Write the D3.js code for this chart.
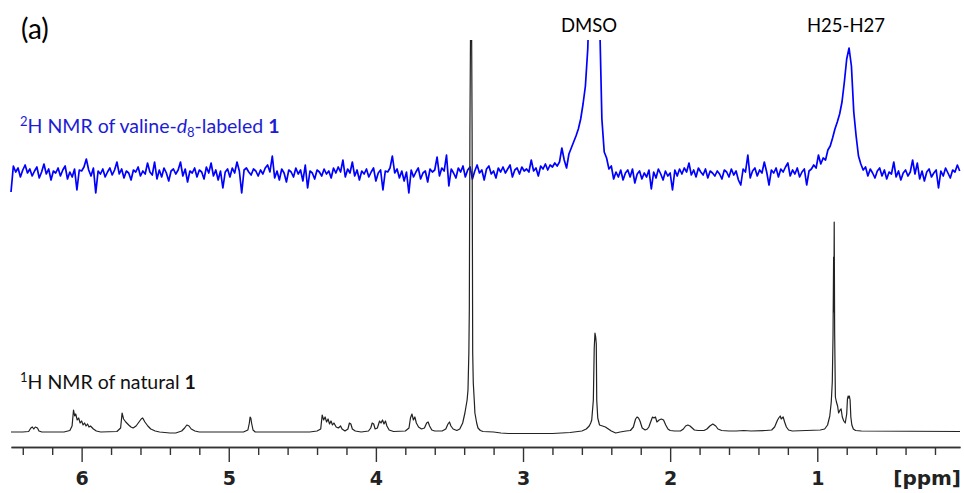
<!DOCTYPE html>
<html>
<head>
<meta charset="utf-8">
<script src="https://cdn.jsdelivr.net/npm/d3@7"></script>
<style>
  body { margin: 0; background: #fff; }
  .lbl { font-family: Lato, "Open Sans", sans-serif; }
  .axis text { font-family: "DejaVu Sans", sans-serif; font-weight: bold; font-size: 19px; fill: #222; }
  .axis path, .axis line { stroke: #333; stroke-width: 1.4px; }
</style>
</head>
<body>
<script>
var width = 964,
    height = 493;

// ppm limits of the plotted window
var ppmLeft = 6.48,
    ppmRight = 0.03;

var majorTicks = [6, 5, 4, 3, 2, 1];
var minorTicks = [6.4, 6.2, 5.8, 5.6, 5.4, 5.2, 4.8, 4.6, 4.4, 4.2, 3.8, 3.6, 3.4, 3.2,
                  2.8, 2.6, 2.4, 2.2, 1.8, 1.6, 1.4, 1.2, 0.8, 0.6, 0.4, 0.2];

// 2H spectrum, evenly sampled from h2Start downwards in steps of h2Step
var h2Start = 6.48,
    h2Step = 0.016;
var h2Values = [
  -18, 8, 2, 6, -3, 4, 9, 1, 5, -2,
  3, 7, -4, 2, 10, 0, 5, -6, 3, 1,
  6, -2, 4, 8, -5, 2, -3, 5, -16, 4,
  3, 7, 15, 4, -2, 6, -19, 3, 0, 5,
  -3, 2, 6, -1, 4, 12, 0, 5, -4, 3,
  1, -6, 4, 2, 7, -2, 3, 0, 11, 2,
  -1, 12, -5, 4, -3, 6, 1, -7, 3, 5,
  0, 4, 12, -2, 5, -8, 3, 1, 6, -3,
  4, 2, -5, 7, 1, 11, -2, 4, -6, 3,
  -14, 2, 5, -3, 6, 1, 12, 3, -19, 4,
  6, 2, -1, 5, 3, -2, 4, 0, 6, 9,
  2, 18, -4, 3, -6, 5, 1, -8, 4, 2,
  -3, 6, 0, 4, -7, 9, -14, 3, 1, -5,
  4, 2, -2, 5, 0, 3, -4, 6, 1, 7,
  2, 14, -3, 5, 1, 12, -2, 4, -6, 3,
  0, 5, -3, 2, 6, -7, 1, 4, -16, 3,
  2, 6, 18, 1, 5, -4, 3, -7, 2, -19,
  4, -3, 2, 6, -5, 1, 3, -8, 5, 2,
  4, 17, -2, 6, 3, 19, -12, 5, 1, -4,
  6, 2, 8, -3, 4, 7, -5, 3, 9, 1,
  4, -6, 5, 8, 0, 3, -4, 6, 2, 7,
  1, 5, 9, -3, 4, 6, 0, 7, 3, 5,
  2, 14, 3, 6, -2, 8, 5, 10, 4, 9,
  7, 11, 8, 12, 26, 14, 6, 20, 26, 32,
  38, 45, 55, 70, 88, 125, 200, 240, 240, 200,
  160, 55, 22, 16, 5, 8, -5, 2, -3, 4,
  -6, 1, 4, -3, 5, -9, 0, 3, -5, 1,
  -3, 4, -15, 2, -4, 5, 0, -6, 3, -2,
  1, -16, 4, -2, 5, 0, 6, 2, 11, -1,
  4, -3, 6, 2, -1, 5, -4, 3, 1, -2,
  3, 0, -5, 4, 2, -3, 5, -1, 3, -6,
  -11, 5, 2, 19, -4, 3, 6, -2, 4, 1,
  12, 2, -11, 4, 1, 6, -3, 5, 2, 7,
  11, -2, 4, 0, 6, -3, 2, 5, -11, 3,
  5, 9, 6, 19, 10, 16, 14, 24, 28, 36,
  45, 52, 60, 72, 92, 115, 126, 108, 62, 38,
  18, 10, 4, 7, -2, 5, 1, -4, 3, 6,
  -2, 4, -5, 2, 0, 12, -3, 3, -6, 1,
  4, -2, 2, 14, 0, 11, -5, 3, -7, 2,
  5, -3, 1, 4, -14, 3, -2, 6, 1, -4,
  4, 2, 9, 3
];

// 1H spectrum traced as [ppm, intensity]
var h1Points = [
  [6.48, 0], [6.40, 0], [6.36, 0.5], [6.345, 4], [6.335, 5], [6.325, 3], [6.315, 5], [6.30, 4], [6.29, 1], [6.27, 0],
  [6.12, 0], [6.08, 1.5], [6.065, 6], [6.055, 22], [6.047, 16], [6.04, 18], [6.03, 12], [6.02, 14], [6.01, 9], [6.00, 11],
  [5.99, 7], [5.98, 9], [5.97, 6], [5.96, 8], [5.95, 5], [5.94, 6], [5.92, 3], [5.90, 1], [5.87, 0],
  [5.76, 0.5], [5.735, 4], [5.725, 19], [5.715, 13], [5.70, 10], [5.68, 7], [5.665, 5], [5.65, 4], [5.63, 6], [5.61, 10],
  [5.595, 13], [5.585, 14], [5.57, 10], [5.55, 6], [5.53, 3], [5.50, 1], [5.47, 0],
  [5.40, -1], [5.36, -1], [5.34, 0], [5.32, 1], [5.30, 4], [5.285, 7], [5.27, 6], [5.255, 3], [5.23, 1], [5.20, 0],
  [4.90, 0], [4.87, 2], [4.86, 9], [4.855, 15], [4.85, 14], [4.845, 9], [4.835, 2], [4.82, 0],
  [4.45, 0], [4.40, 1], [4.375, 3], [4.365, 17], [4.355, 12], [4.345, 15], [4.335, 10], [4.325, 13], [4.315, 8],
  [4.305, 11], [4.295, 7], [4.285, 9], [4.27, 5], [4.255, 4], [4.24, 6], [4.23, 3], [4.21, 1], [4.19, 3], [4.18, 9],
  [4.17, 8], [4.16, 3], [4.14, 1], [4.10, 0],
  [4.05, 1], [4.035, 4], [4.025, 9], [4.015, 8], [4.005, 3], [3.99, 4], [3.975, 11], [3.965, 9], [3.955, 12],
  [3.945, 8], [3.935, 11], [3.925, 6], [3.91, 2], [3.88, 0.5],
  [3.80, 1], [3.775, 4], [3.765, 14], [3.755, 18], [3.745, 12], [3.735, 15], [3.725, 9], [3.71, 5], [3.69, 3],
  [3.67, 4], [3.655, 9], [3.645, 10], [3.635, 6], [3.62, 2], [3.60, 1],
  [3.55, 1], [3.525, 3], [3.51, 8], [3.50, 10], [3.49, 6], [3.475, 3], [3.45, 1.5], [3.43, 3], [3.41, 9],
  [3.395, 19], [3.38, 32], [3.374, 42], [3.368, 80], [3.365, 122], [3.361, 300], [3.356, 420], [3.350, 420],
  [3.346, 300], [3.342, 79], [3.338, 49], [3.33, 28], [3.327, 19], [3.315, 9], [3.306, 4], [3.29, 1.5], [3.272, 0.5],
  [3.20, 0], [3.15, -1], [3.10, -1.5], [2.80, -1.5], [2.68, -0.5], [2.60, 1], [2.57, 3], [2.55, 6], [2.54, 9],
  [2.533, 12], [2.522, 32], [2.516, 84], [2.511, 99], [2.506, 95], [2.502, 88], [2.499, 32], [2.492, 14], [2.48, 7],
  [2.46, 6], [2.44, 5], [2.42, 3], [2.40, 1], [2.37, -1], [2.34, 0], [2.30, 1],
  [2.27, 1.5], [2.25, 5], [2.235, 13], [2.225, 15], [2.215, 14], [2.205, 11], [2.19, 4], [2.17, 2], [2.155, 3],
  [2.145, 5], [2.135, 9], [2.12, 15], [2.11, 14], [2.10, 15], [2.09, 10], [2.075, 12], [2.06, 13], [2.045, 12],
  [2.03, 7], [2.015, 3], [2.0, 1.5], [1.97, 1],
  [1.93, 1], [1.91, 3], [1.895, 6], [1.88, 7], [1.865, 6], [1.85, 4], [1.835, 2], [1.81, 1.5],
  [1.77, 1.5], [1.75, 3], [1.73, 6], [1.71, 8], [1.69, 6], [1.675, 3], [1.65, 1.5], [1.60, 1],
  [1.55, 1], [1.50, 1.5], [1.45, 1], [1.35, 1.5],
  [1.31, 2], [1.29, 5], [1.27, 12], [1.262, 14], [1.252, 16], [1.245, 13], [1.232, 15], [1.222, 10], [1.21, 5],
  [1.195, 2], [1.17, 1],
  [0.98, 2], [0.95, 3], [0.93, 7], [0.915, 16], [0.905, 30], [0.898, 50], [0.893, 96], [0.889, 175], [0.887, 120],
  [0.885, 210], [0.882, 100], [0.877, 35], [0.870, 30], [0.862, 26], [0.855, 19], [0.845, 22], [0.838, 23],
  [0.83, 15], [0.82, 11], [0.81, 9], [0.80, 18], [0.795, 33], [0.79, 36], [0.786, 34], [0.782, 36], [0.777, 32],
  [0.772, 15], [0.765, 7], [0.755, 3], [0.74, 1.5], [0.70, 1], [0.03, 0.5]
];

var svg = d3.select("body").append("svg")
    .attr("width", width)
    .attr("height", height)
    .style("display", "block");

var x = d3.scaleLinear().domain([ppmLeft, ppmRight]).range([11, 960]);
var yBlue = d3.scaleLinear().domain([0, 100]).range([174, 74]);
var yBlack = d3.scaleLinear().domain([0, 210]).range([432, 222]);

svg.append("clipPath").attr("id", "plot")
  .append("rect")
    .attr("x", 0).attr("y", 40)
    .attr("width", width).attr("height", height - 40);

var blueLine = d3.line()
    .x(function(d, i) { return x(h2Start - i * h2Step); })
    .y(function(d) { return yBlue(d); });

var blackLine = d3.line()
    .x(function(d) { return x(d[0]); })
    .y(function(d) { return yBlack(d[1]); });

var traces = svg.append("g").attr("clip-path", "url(#plot)");

traces.append("path")
    .datum(h2Values)
    .attr("d", blueLine)
    .attr("fill", "none")
    .attr("stroke", "#0000ff")
    .attr("stroke-width", 1.7)
    .attr("stroke-linejoin", "round");

traces.append("path")
    .datum(h1Points)
    .attr("d", blackLine)
    .attr("fill", "none")
    .attr("stroke", "#222")
    .attr("stroke-width", 1.2)
    .attr("stroke-linejoin", "round");

// -- axis
svg.append("g")
    .attr("class", "axis")
    .attr("transform", "translate(0,447)")
    .call(d3.axisBottom(x).tickValues(minorTicks).tickSize(8).tickSizeOuter(0).tickFormat(""));

svg.append("g")
    .attr("class", "axis")
    .attr("transform", "translate(0,447)")
    .call(d3.axisBottom(x).tickValues(majorTicks).tickSize(15).tickSizeOuter(0).tickPadding(10).tickFormat(d3.format("d")));

svg.append("text")
    .attr("x", 961).attr("y", 485)
    .attr("text-anchor", "end")
    .style("font-family", "'DejaVu Sans', sans-serif")
    .style("font-weight", "bold")
    .style("font-size", "20px")
    .style("fill", "#222")
    .text("[ppm]");

// -- labels
svg.append("text")
    .attr("class", "lbl")
    .attr("x", 21).attr("y", 39)
    .style("font-size", "28px")
    .text("(a)");

svg.append("text")
    .attr("class", "lbl")
    .attr("x", 589).attr("y", 32)
    .attr("text-anchor", "middle")
    .style("font-size", "18.5px")
    .text("DMSO");

svg.append("text")
    .attr("class", "lbl")
    .attr("x", 846).attr("y", 32)
    .attr("text-anchor", "middle")
    .style("font-size", "18.5px")
    .text("H25-H27");

var blueLbl = svg.append("text")
    .attr("class", "lbl")
    .attr("x", 20).attr("y", 133)
    .style("font-size", "19.5px")
    .style("fill", "#1c1cd6");
blueLbl.append("tspan").attr("font-size", "13px").attr("dy", -7).text("2");
blueLbl.append("tspan").attr("dy", 7).text("H NMR of valine-");
blueLbl.append("tspan").attr("font-style", "italic").text("d");
blueLbl.append("tspan").attr("font-size", "13px").attr("dy", 4).text("8");
blueLbl.append("tspan").attr("dy", -4).text("-labeled ");
blueLbl.append("tspan").attr("font-weight", "bold").text("1");

var blackLbl = svg.append("text")
    .attr("class", "lbl")
    .attr("x", 20).attr("y", 389)
    .style("font-size", "19.5px")
    .style("fill", "#111");
blackLbl.append("tspan").attr("font-size", "13px").attr("dy", -7).text("1");
blackLbl.append("tspan").attr("dy", 7).text("H NMR of natural ");
blackLbl.append("tspan").attr("font-weight", "bold").text("1");
</script>
</body>
</html>
